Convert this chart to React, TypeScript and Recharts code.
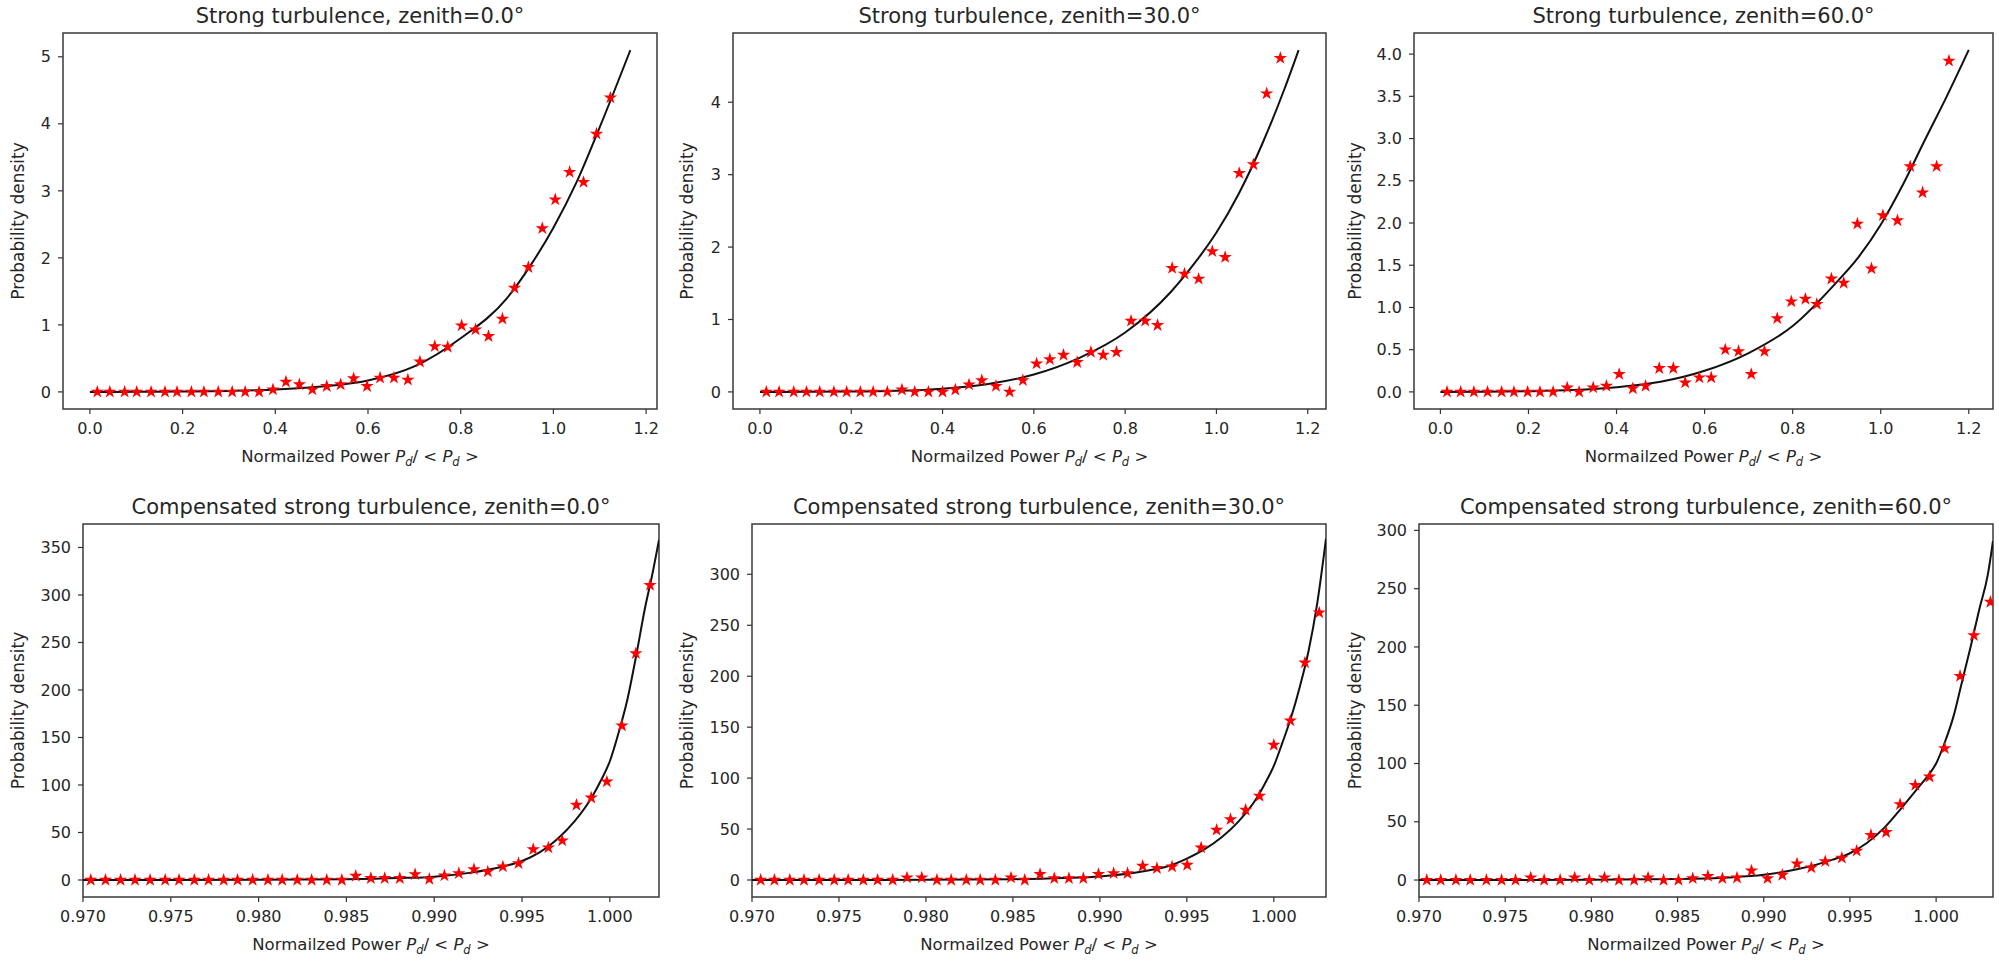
import React from 'react';
import { ComposedChart, Scatter, Line, XAxis, YAxis, ReferenceArea } from 'recharts';

const FONT = '"DejaVu Sans", "Liberation Sans", sans-serif';
const TEXT = '#262626';

// tick values
const topXTicks = [0, 0.2, 0.4, 0.6, 0.8, 1.0, 1.2];
const botXTicks = [0.97, 0.975, 0.98, 0.985, 0.99, 0.995, 1.0];
const p1YTicks = [0, 1, 2, 3, 4, 5];
const p2YTicks = [0, 1, 2, 3, 4];
const p3YTicks = [0, 0.5, 1, 1.5, 2, 2.5, 3, 3.5, 4];
const p4YTicks = [0, 50, 100, 150, 200, 250, 300, 350];
const p5YTicks = [0, 50, 100, 150, 200, 250, 300];
const p6YTicks = [0, 50, 100, 150, 200, 250, 300];

// strong turbulence, zenith 0
const p1StarX = [0.016, 0.043, 0.075, 0.101, 0.132, 0.162, 0.188, 0.219, 0.246, 0.277, 0.307, 0.335, 0.365, 0.395, 0.423, 0.452, 0.48, 0.511, 0.541, 0.569, 0.598, 0.626, 0.656, 0.686, 0.712, 0.744, 0.772, 0.802, 0.832, 0.86, 0.89, 0.916, 0.946, 0.976, 1.004, 1.035, 1.065, 1.093, 1.123];
const p1StarY = [0, 0, 0, 0, 0, 0, 0, 0, 0, 0, 0, 0, 0, 0.035, 0.15, 0.11, 0.035, 0.085, 0.11, 0.2, 0.085, 0.21, 0.21, 0.18, 0.45, 0.68, 0.67, 0.99, 0.93, 0.83, 1.09, 1.55, 1.86, 2.44, 2.87, 3.28, 3.13, 3.85, 4.39];
const p1FitX = [0, 0.1, 0.2, 0.3, 0.4, 0.5, 0.6, 0.7, 0.8, 0.9, 0.95, 1.0, 1.05, 1.1, 1.166];
const p1FitY = [0, 0.001, 0.005, 0.015, 0.035, 0.08, 0.17, 0.38, 0.8, 1.4, 1.88, 2.45, 3.13, 3.95, 5.1];

// strong turbulence, zenith 30
const p2StarX = [0.014, 0.042, 0.074, 0.102, 0.131, 0.162, 0.19, 0.22, 0.248, 0.279, 0.311, 0.339, 0.369, 0.4, 0.428, 0.458, 0.486, 0.517, 0.547, 0.576, 0.606, 0.635, 0.665, 0.695, 0.725, 0.752, 0.781, 0.813, 0.844, 0.871, 0.903, 0.93, 0.961, 0.991, 1.019, 1.05, 1.081, 1.11, 1.14];
const p2StarY = [0, 0, 0, 0, 0, 0, 0, 0, 0, 0, 0.03, 0, 0, 0, 0.03, 0.1, 0.16, 0.08, 0, 0.16, 0.39, 0.45, 0.51, 0.41, 0.55, 0.51, 0.55, 0.98, 0.98, 0.92, 1.71, 1.63, 1.56, 1.94, 1.86, 3.02, 3.14, 4.12, 4.61];
const p2FitX = [0, 0.1, 0.2, 0.3, 0.4, 0.5, 0.6, 0.7, 0.8, 0.9, 0.95, 1.0, 1.05, 1.1, 1.15, 1.18];
const p2FitY = [0, 0.001, 0.004, 0.015, 0.045, 0.11, 0.24, 0.47, 0.82, 1.38, 1.76, 2.2, 2.75, 3.42, 4.2, 4.72];

// strong turbulence, zenith 60
const p3StarX = [0.015, 0.046, 0.076, 0.107, 0.139, 0.167, 0.198, 0.226, 0.256, 0.288, 0.315, 0.347, 0.377, 0.406, 0.437, 0.466, 0.497, 0.529, 0.556, 0.588, 0.615, 0.647, 0.677, 0.706, 0.736, 0.765, 0.797, 0.829, 0.855, 0.888, 0.916, 0.947, 0.979, 1.005, 1.038, 1.067, 1.095, 1.127, 1.155];
const p3StarY = [0, 0, 0, 0, 0, 0, 0, 0, 0, 0.05, 0, 0.05, 0.07, 0.21, 0.04, 0.07, 0.28, 0.28, 0.11, 0.17, 0.17, 0.5, 0.48, 0.21, 0.48, 0.87, 1.07, 1.1, 1.04, 1.34, 1.29, 1.99, 1.46, 2.09, 2.03, 2.67, 2.36, 2.67, 3.92];
const p3FitX = [0, 0.1, 0.2, 0.3, 0.4, 0.5, 0.6, 0.7, 0.8, 0.9, 0.95, 1.0, 1.05, 1.1, 1.15, 1.2];
const p3FitY = [0, 0.002, 0.008, 0.022, 0.055, 0.12, 0.25, 0.46, 0.78, 1.3, 1.6, 1.98, 2.45, 2.98, 3.5, 4.05];

// compensated, zenith 0
const p4StarX = [0.97044, 0.97128, 0.97214, 0.97296, 0.97382, 0.97468, 0.97547, 0.97634, 0.97715, 0.97801, 0.9788, 0.97966, 0.98053, 0.98134, 0.9822, 0.98302, 0.98388, 0.98474, 0.98553, 0.98639, 0.98718, 0.98804, 0.98891, 0.98972, 0.99058, 0.9914, 0.99226, 0.99305, 0.99391, 0.9948, 0.99564, 0.9965, 0.99729, 0.9981, 0.99894, 0.99983, 1.00069, 1.00148, 1.00229];
const p4StarY = [0, 0, 0, 0, 0, 0, 0, 0, 0, 0, 0, 0, 0, 0, 0, 0, 0, 0, 4.2, 1.8, 1.8, 1.8, 6.0, 1.0, 4.6, 7.0, 11.2, 8.8, 14.0, 17.5, 32.3, 34.0, 41.4, 78.9, 86.6, 103.5, 162.4, 238.5, 310.4];
const p4FitX = [0.97, 0.975, 0.98, 0.985, 0.988, 0.99, 0.992, 0.993, 0.994, 0.995, 0.996, 0.997, 0.998, 0.999, 0.9995, 1.0, 1.0005, 1.001, 1.0015, 1.002, 1.0024, 1.0028];
const p4FitY = [0, 0.05, 0.2, 0.8, 2, 3.5, 7.5, 10.5, 14.5, 20, 29, 43, 62, 88, 105, 125, 155, 190, 236, 286, 320, 358];

// compensated, zenith 30
const p5StarX = [0.9705, 0.97129, 0.97217, 0.97299, 0.97386, 0.97473, 0.97553, 0.9764, 0.97722, 0.97809, 0.97891, 0.97976, 0.98063, 0.98145, 0.98232, 0.98312, 0.98399, 0.98489, 0.98568, 0.98656, 0.98738, 0.98822, 0.98905, 0.98992, 0.99079, 0.99159, 0.99246, 0.99328, 0.99415, 0.99502, 0.99582, 0.99671, 0.99751, 0.99838, 0.99918, 1.0, 1.00095, 1.00179, 1.00261];
const p5StarY = [0, 0, 0, 0, 0, 0, 0, 0, 0, 0, 2.3, 2.3, 0, 0, 0, 0, 0, 2.3, 0, 5.6, 1.6, 1.6, 1.6, 5.6, 6.5, 6.5, 13.7, 11.5, 13.1, 14.7, 31.7, 49.1, 59.5, 68.7, 82.4, 132.5, 156.4, 213.3, 262.4];
const p5FitX = [0.97, 0.975, 0.98, 0.985, 0.988, 0.99, 0.992, 0.993, 0.994, 0.995, 0.996, 0.997, 0.998, 0.999, 0.9995, 1.0, 1.0005, 1.001, 1.0015, 1.002, 1.0025, 1.003];
const p5FitY = [0, 0.05, 0.2, 0.8, 2, 3.5, 7, 10, 14, 21, 30, 42, 58, 80, 95, 112, 135, 160, 190, 225, 272, 335];

// compensated, zenith 60
const p6StarX = [0.97045, 0.97126, 0.97214, 0.97297, 0.97391, 0.97479, 0.9756, 0.97648, 0.97726, 0.97819, 0.97903, 0.97988, 0.98076, 0.9816, 0.98248, 0.98329, 0.98419, 0.98505, 0.98588, 0.98676, 0.9876, 0.98845, 0.98929, 0.99022, 0.99108, 0.99193, 0.99276, 0.99357, 0.99453, 0.99539, 0.99622, 0.9971, 0.99791, 0.99879, 0.99962, 1.0005, 1.00139, 1.00219, 1.00315];
const p6StarY = [0, 0, 0, 0, 0, 0, 0, 2, 0, 0, 2, 0, 2, 0, 0, 2, 0, 0, 1.4, 3.4, 1.4, 2, 8, 1.4, 4.3, 14, 10.6, 16, 19, 25, 38.6, 41, 65, 81.4, 88.6, 113, 175, 210, 238.6];
const p6FitX = [0.97, 0.975, 0.98, 0.985, 0.988, 0.99, 0.992, 0.993, 0.994, 0.995, 0.996, 0.997, 0.998, 0.999, 0.9995, 1.0, 1.0005, 1.001, 1.0015, 1.002, 1.0025, 1.003, 1.0033];
const p6FitY = [0, 0.05, 0.2, 0.8, 2.2, 4.5, 9.5, 13, 17.5, 23, 32, 45, 62, 80, 89, 100, 118, 140, 170, 200, 232, 262, 291];

const zip = (xs: number[], ys: number[]) => xs.map((x, i) => ({ x, y: ys[i] }));

const fmt1 = (v: number) => v.toFixed(1);
const fmt3 = (v: number) => v.toFixed(3);
const fmt0 = (v: number) => String(v);

// box = plot area in page pixels, ylabX = baseline of the rotated y label
const panels = [
  { title: 'Strong turbulence, zenith=0.0°', stars: zip(p1StarX, p1StarY), fit: zip(p1FitX, p1FitY),
    xDomain: [-0.058, 1.2235], yDomain: [-0.255, 5.355], xTicks: topXTicks, yTicks: p1YTicks, xFmt: fmt1, yFmt: fmt0,
    box: { x: 63, y: 33, w: 594, h: 376 }, ylabX: 24 },
  { title: 'Strong turbulence, zenith=30.0°', stars: zip(p2StarX, p2StarY), fit: zip(p2FitX, p2FitY),
    xDomain: [-0.059, 1.24], yDomain: [-0.236, 4.956], xTicks: topXTicks, yTicks: p2YTicks, xFmt: fmt1, yFmt: fmt0,
    box: { x: 733, y: 33, w: 593, h: 376 }, ylabX: 693 },
  { title: 'Strong turbulence, zenith=60.0°', stars: zip(p3StarX, p3StarY), fit: zip(p3FitX, p3FitY),
    xDomain: [-0.06, 1.255], yDomain: [-0.2025, 4.25], xTicks: topXTicks, yTicks: p3YTicks, xFmt: fmt1, yFmt: fmt1,
    box: { x: 1414, y: 33, w: 579, h: 376 }, ylabX: 1361 },
  { title: 'Compensated strong turbulence, zenith=0.0°', stars: zip(p4StarX, p4StarY), fit: zip(p4FitX, p4FitY),
    xDomain: [0.97, 1.0028], yDomain: [-17.9, 374.7], xTicks: botXTicks, yTicks: p4YTicks, xFmt: fmt3, yFmt: fmt0,
    box: { x: 83, y: 524, w: 576, h: 373 }, ylabX: 24 },
  { title: 'Compensated strong turbulence, zenith=30.0°', stars: zip(p5StarX, p5StarY), fit: zip(p5FitX, p5FitY),
    xDomain: [0.97, 1.003], yDomain: [-16.7, 349.4], xTicks: botXTicks, yTicks: p5YTicks, xFmt: fmt3, yFmt: fmt0,
    box: { x: 752, y: 524, w: 574, h: 373 }, ylabX: 693 },
  { title: 'Compensated strong turbulence, zenith=60.0°', stars: zip(p6StarX, p6StarY), fit: zip(p6FitX, p6FitY),
    xDomain: [0.97, 1.0033], yDomain: [-14.55, 305.5], xTicks: botXTicks, yTicks: p6YTicks, xFmt: fmt3, yFmt: fmt0,
    box: { x: 1419, y: 524, w: 574, h: 373 }, ylabX: 1361 },
];

const Star = (props: any) => {
  const { cx, cy } = props;
  if (cx == null || cy == null) return null;
  const R = 7;
  const r = R * 0.382;
  const pts: string[] = [];
  for (let i = 0; i < 10; i++) {
    const rad = i % 2 === 0 ? R : r;
    const a = -Math.PI / 2 + (i * Math.PI) / 5;
    pts.push(`${cx + rad * Math.cos(a)},${cy + rad * Math.sin(a)}`);
  }
  return <polygon points={pts.join(' ')} fill="#ff0000" />;
};

const L = 60, T = 10, R = 10, B = 40, YW = 55, XH = 30;
const tickStyle = { fontSize: 16, fill: TEXT, fontFamily: FONT };

const Panel = ({ p }: { p: any }) => (
  <div style={{ position: 'absolute', left: p.box.x - L, top: p.box.y - T }}>
    <ComposedChart
      width={p.box.w + L + R}
      height={p.box.h + T + B}
      margin={{ top: T, right: R, left: L - YW, bottom: B - XH }}
    >
      <XAxis type="number" dataKey="x" domain={p.xDomain} allowDataOverflow ticks={p.xTicks} interval={0}
        tickFormatter={p.xFmt} tick={tickStyle} tickSize={5} tickMargin={9}
        tickLine={{ stroke: '#333', strokeWidth: 1.2 }} axisLine={false} height={XH} />
      <YAxis type="number" dataKey="y" domain={p.yDomain} allowDataOverflow ticks={p.yTicks} interval={0}
        tickFormatter={p.yFmt} tick={tickStyle} tickSize={5} tickMargin={7}
        tickLine={{ stroke: '#333', strokeWidth: 1.2 }} axisLine={false} width={YW} />
      <ReferenceArea x1={p.xDomain[0]} x2={p.xDomain[1]} y1={p.yDomain[0]} y2={p.yDomain[1]}
        fill="none" stroke="#3a3a3a" strokeWidth={1.5} ifOverflow="visible" />
      <Scatter data={p.stars} shape={Star} isAnimationActive={false} />
      <Line data={p.fit} dataKey="y" type="monotone" stroke="#111" strokeWidth={2} dot={false}
        isAnimationActive={false} />
    </ComposedChart>
  </div>
);

const XLabel = ({ x, y }: { x: number; y: number }) => (
  <text x={x} y={y} textAnchor="middle" fontSize={16.5}>
    {'Normailzed Power '}
    <tspan fontStyle="italic">P</tspan>
    <tspan fontStyle="italic" fontSize={11.5} dy={4}>d</tspan>
    <tspan dy={-4}>{'/ < '}</tspan>
    <tspan fontStyle="italic">P</tspan>
    <tspan fontStyle="italic" fontSize={11.5} dy={4}>d</tspan>
    <tspan dy={-4}>{' >'}</tspan>
  </text>
);

export default function App() {
  return (
    <div style={{ position: 'absolute', left: 0, top: 0, width: 1999, height: 961, background: '#fff', fontFamily: FONT }}>
      {panels.map((p, i) => <Panel key={i} p={p} />)}
      <svg width={1999} height={961} style={{ position: 'absolute', left: 0, top: 0, pointerEvents: 'none' }}
        fontFamily={FONT} fill={TEXT}>
        {panels.map((p, i) => {
          const cx = p.box.x + p.box.w / 2;
          const cy = p.box.y + p.box.h / 2;
          return (
            <g key={i}>
              <text x={cx} y={p.box.y - 10} textAnchor="middle" fontSize={21}>{p.title}</text>
              <XLabel x={cx} y={p.box.y + p.box.h + 53} />
              <text x={p.ylabX} y={cy} textAnchor="middle" fontSize={17}
                transform={`rotate(-90, ${p.ylabX}, ${cy})`}>Probability density</text>
            </g>
          );
        })}
      </svg>
    </div>
  );
}
